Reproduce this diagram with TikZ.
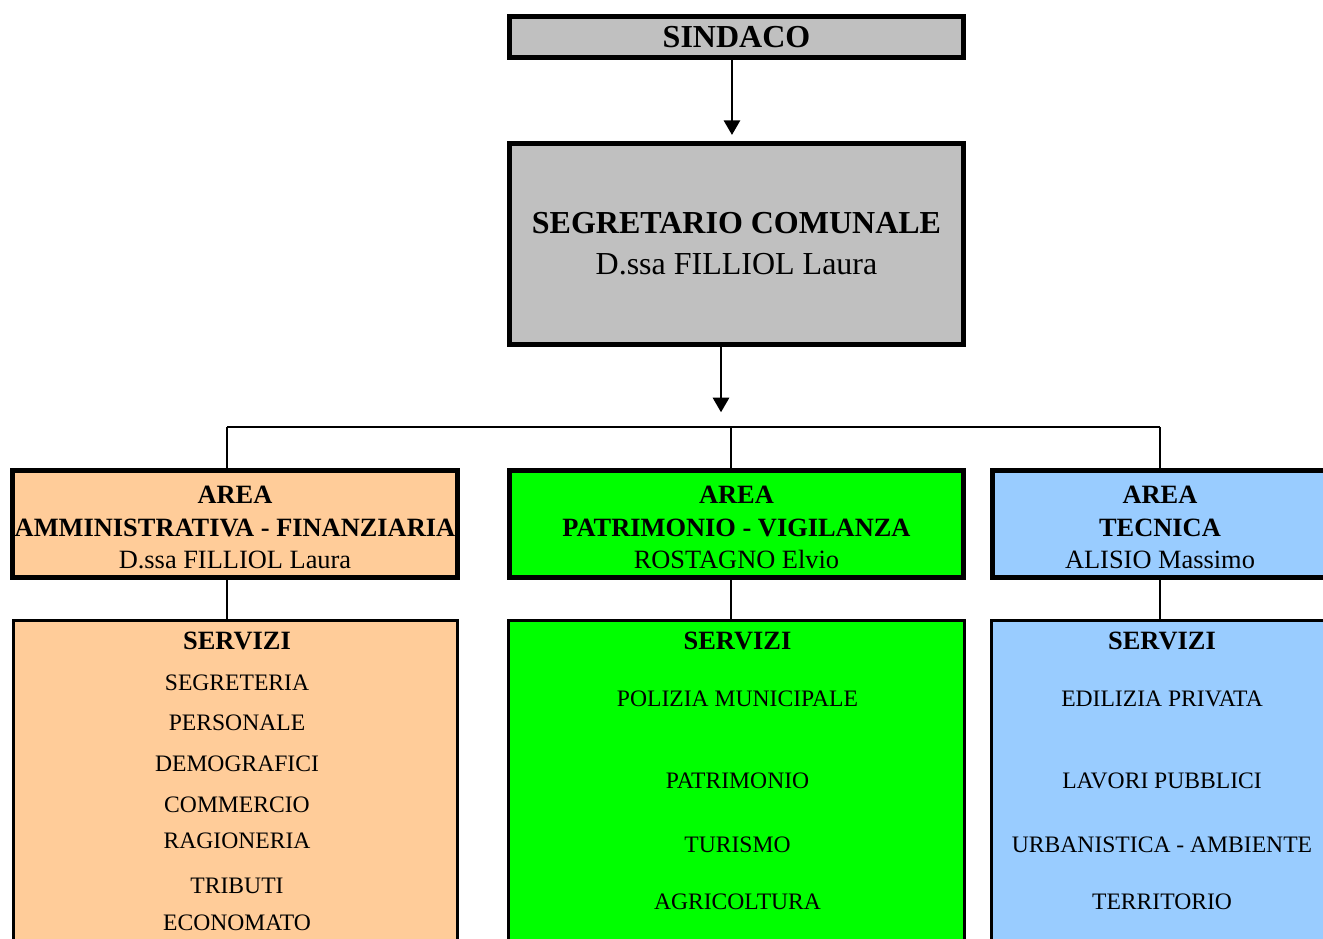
\documentclass[tikz,border=0pt]{standalone}
\usepackage{fontspec}
\setmainfont{Liberation Serif}
\usetikzlibrary{arrows.meta, positioning}
\usepackage{xcolor}
\definecolor{boxgray}{HTML}{C0C0C0}
\definecolor{areaorange}{HTML}{FFCC99}
\definecolor{areagreen}{HTML}{00FF00}
\definecolor{areablue}{HTML}{99CCFF}
\newcommand{\areastrut}{\rule{0pt}{18.5pt}}

\begin{document}
\begin{tikzpicture}[x=0.75pt, y=-0.75pt,
  topfont/.style={font=\fontsize{24}{30.75}\selectfont},
  areafont/.style={font=\fontsize{19.8}{24.4}\selectfont},
  headbox/.style={draw, line width=3.75pt, fill=boxgray, inner sep=0pt, align=center, minimum width=340.5pt, topfont},
  areabox/.style={draw, line width=3.75pt, inner sep=0pt, align=center, minimum height=80.25pt, areafont},
  servbox/.style={draw, line width=2.25pt, inner sep=0pt, minimum height=269.25pt},
  servtitle/.style={font=\fontsize{19.8}{24}\selectfont\bfseries},
  voce/.style={font=\fontsize{17.7}{21}\selectfont},
  conn/.style={line width=2pt},
  arr/.style={line width=2.2pt, -{Triangle[length=11pt,width=12pt]}}
]
\useasboundingbox (0,0) rectangle (1323,938);
\clip (0,0) rectangle (1323,938);

\node[headbox, minimum height=30.75pt] (sind) at (736.5,37) {\textbf{SINDACO}};
\node[headbox, minimum height=150.75pt] (segr) at (736.5,244) {\textbf{SEGRETARIO COMUNALE}\\D.ssa FILLIOL Laura};

\node[areabox, fill=areaorange, minimum width=333.75pt] (aamm) at (235,524) {\areastrut\textbf{AREA}\\\textbf{AMMINISTRATIVA - FINANZIARIA}\\D.ssa FILLIOL Laura};
\node[areabox, fill=areagreen, minimum width=340.5pt] (apat) at (736.5,524) {\areastrut\textbf{AREA}\\\textbf{PATRIMONIO - VIGILANZA}\\ROSTAGNO Elvio};
\node[areabox, fill=areablue, minimum width=251.25pt] (atec) at (1160,524) {\areastrut\textbf{AREA}\\\textbf{TECNICA}\\ALISIO Massimo};

\node[servbox, fill=areaorange, minimum width=333pt] (samm) at (235.5,800) {};
\node[servbox, fill=areagreen, minimum width=342pt] (spat) at (736.5,800) {};
\node[servbox, fill=areablue, minimum width=252.75pt] (stec) at (1160,800) {};

\node[servtitle] (tamm) at (237,641) {SERVIZI};
\node[servtitle] (tpat) at (737.5,641) {SERVIZI};
\node[servtitle] (ttec) at (1162,641) {SERVIZI};

\foreach \i/\y/\t in {1/683/SEGRETERIA, 2/723/PERSONALE, 3/764/DEMOGRAFICI, 4/805/COMMERCIO, 5/841/RAGIONERIA, 6/886/TRIBUTI, 7/923/ECONOMATO}
  \node[voce] (vamm\i) at (237,\y) {\t};
\foreach \i/\y/\t in {1/699/POLIZIA MUNICIPALE, 2/781/PATRIMONIO, 3/845/TURISMO, 4/902/AGRICOLTURA}
  \node[voce] (vpat\i) at (737.5,\y) {\t};
\foreach \i/\y/\t in {1/699/EDILIZIA PRIVATA, 2/781/LAVORI PUBBLICI, 3/845/URBANISTICA - AMBIENTE, 4/902/TERRITORIO}
  \node[voce] (vtec\i) at (1162,\y) {\t};

\coordinate (bl) at (227,427);
\coordinate (bm) at (731,427);
\coordinate (br) at (1160,427);
\coordinate (bc) at (721,427);

\draw[arr, shorten >=4.5pt] ([xshift=-3.4pt]sind.south) -- ([xshift=-3.4pt]segr.north);
\draw[arr, shorten >=11pt] (bc |- segr.south) -- (bc);
\draw[conn] (bl) -- (br);
\draw[conn] (bl) -- (bl |- aamm.north);
\draw[conn] (bm) -- (bm |- apat.north);
\draw[conn] (br) -- (br |- atec.north);
\draw[conn] (bl |- aamm.south) -- (bl |- samm.north);
\draw[conn] (bm |- apat.south) -- (bm |- spat.north);
\draw[conn] (br |- atec.south) -- (br |- stec.north);
\end{tikzpicture}
\end{document}
